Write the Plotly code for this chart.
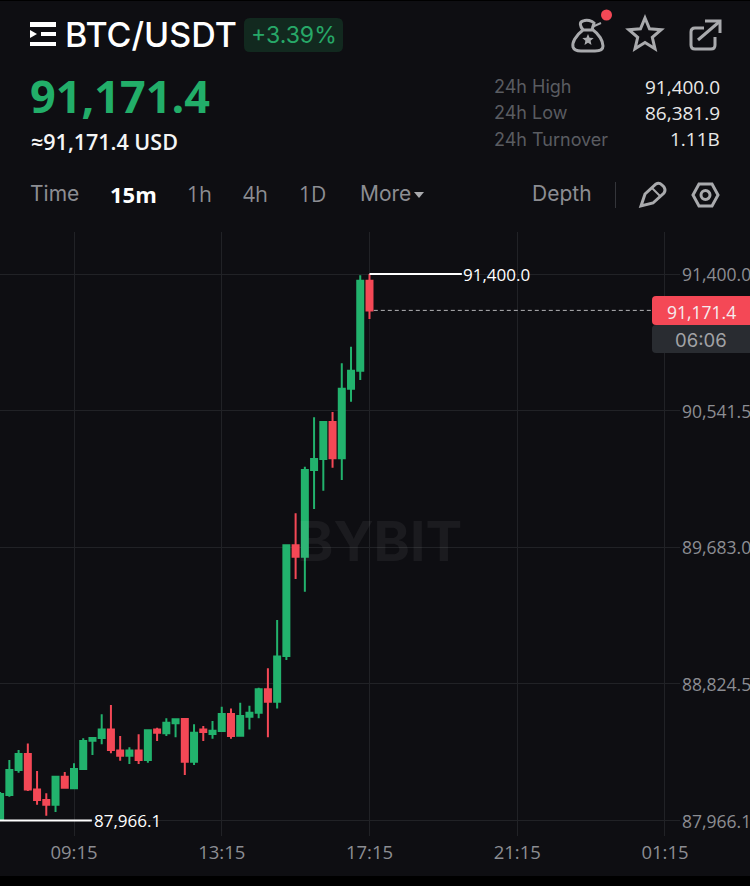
import math
import pandas as pd
import plotly.graph_objects as go

# 15m candles, oldest first
times = pd.date_range("2024-11-13 07:15", periods=41, freq="15min")
open_prices = [87973, 88126, 88283, 88383, 88161, 88094, 88065, 88241, 88168, 88289,
               88467, 88484, 88538, 88406, 88373, 88406, 88345, 88538, 88513, 88576,
               88603, 88335, 88538, 88509, 88528, 88635, 88498, 88618, 88643, 88790,
               88712, 88999, 89695, 89623, 90168, 90237, 90470, 90242, 90679, 90792,
               91358]
high_prices = [88144, 88345, 88408, 88450, 88276, 88136, 88245, 88270, 88325, 88482,
               88487, 88633, 88691, 88496, 88425, 88507, 88535, 88549, 88608, 88605,
               88606, 88570, 88559, 88591, 88680, 88670, 88706, 88687, 88800, 88922,
               89225, 89700, 89896, 90189, 90499, 90470, 90533, 90839, 90943, 91392,
               91400]
low_prices = [87966.1, 88115, 88266, 88151, 88065, 87995, 88019, 88168, 88168, 88285,
              88377, 88444, 88388, 88341, 88320, 88320, 88329, 88465, 88496, 88488,
              88251, 88314, 88465, 88479, 88524, 88479, 88494, 88538, 88608, 88488,
              88670, 88974, 89483, 89403, 89923, 90038, 90183, 90105, 90597, 90734,
              91117]
close_prices = [88132, 88283, 88383, 88161, 88094, 88065, 88241, 88171, 88289, 88465,
                88484, 88538, 88408, 88373, 88406, 88345, 88532, 88517, 88580, 88601,
                88335, 88517, 88521, 88530, 88635, 88496, 88622, 88643, 88790, 88712,
                88996, 89695, 89623, 90168, 90237, 90470, 90242, 90679, 90792, 91358,
                91171.4]

price_ticks = [87966.1, 88824.5, 89683.0, 90541.5, 91400.0]
price_labels = ["87,966.1", "88,824.5", "89,683.0", "90,541.5", "91,400.0"]
time_ticks = ["2024-11-13 09:15", "2024-11-13 13:15", "2024-11-13 17:15", "2024-11-13 21:15", "2024-11-14 01:15"]
time_labels = ["09:15", "13:15", "17:15", "21:15", "01:15"]

high_price = 91400.0
low_price = 87966.1
last_price = 91171.4

stat_names = ["24h High", "24h Low", "24h Turnover"]
stat_values = ["91,400.0", "86,381.9", "1.11B"]

BG = "#0E0E12"
GREEN = "#22B26D"
RED = "#F44856"
GRID = "#212226"
GRAY = "#8C8D92"
ICON = "#A9AAAD"
W, H = 750, 886


def px(x):
    return x / W


def py(y):
    return 1 - y / H


def path(s):
    # path written in page pixels -> paper coords
    out = []
    is_x = True
    for tok in s.split():
        if tok.isalpha():
            out.append(tok)
        else:
            out.append(str(px(float(tok))) if is_x else str(py(float(tok))))
            is_x = not is_x
    return " ".join(out)


def round_rect(x0, y0, x1, y1, r, right=True):
    if right:
        return (f"M {x0+r} {y0} L {x1-r} {y0} Q {x1} {y0} {x1} {y0+r} L {x1} {y1-r} Q {x1} {y1} {x1-r} {y1} "
                f"L {x0+r} {y1} Q {x0} {y1} {x0} {y1-r} L {x0} {y0+r} Q {x0} {y0} {x0+r} {y0} Z")
    return (f"M {x0+r} {y0} L {x1} {y0} L {x1} {y1} L {x0+r} {y1} Q {x0} {y1} {x0} {y1-r} "
            f"L {x0} {y0+r} Q {x0} {y0} {x0+r} {y0} Z")


def star(cx, cy, r):
    pts = []
    for i in range(10):
        rad = r if i % 2 == 0 else r * 0.45
        a = -math.pi / 2 + i * math.pi / 5
        pts.append(f"{cx + rad * math.cos(a):.1f} {cy + rad * math.sin(a):.1f}")
    return "M " + " L ".join(pts) + " Z"


shapes = []


def add_path(s, fill=None, color=None, width=0):
    shapes.append(dict(type="path", xref="paper", yref="paper", path=path(s),
                       fillcolor=fill if fill else "rgba(0,0,0,0)",
                       line=dict(color=color if color else "rgba(0,0,0,0)", width=width)))


def add_rect(x0, y0, x1, y1, fill):
    shapes.append(dict(type="rect", xref="paper", yref="paper", x0=px(x0), x1=px(x1), y0=py(y0), y1=py(y1),
                       fillcolor=fill, line=dict(width=0)))


annotations = []


def add_text(x, y, text, size, color, anchor="left", weight=400, font="Open Sans"):
    annotations.append(dict(xref="paper", yref="paper", x=px(x), y=py(y), text=text, showarrow=False,
                            xanchor=anchor, yanchor="middle", borderpad=0,
                            font=dict(size=size, color=color, family=font, weight=weight)))


# black strips top and bottom
add_rect(0, 876, 750, 886, "#000000")
add_rect(0, 0, 750, 1, "#000000")

# menu icon
add_rect(30, 22, 56, 27, "#FFFFFF")
add_rect(41, 32, 56, 36, "#FFFFFF")
add_rect(30, 42, 56, 46, "#FFFFFF")
add_path("M 30 30 L 37 34 L 30 38 Z", fill="#FFFFFF")

# change badge
add_path(round_rect(244, 18, 343, 52, 6), fill="#12291F")

# top right icons
add_path("M 583 30 C 575 36 572 43 573 47 C 574 50 577 51 581 51 L 595 51 C 600 51 603 50 603 46 C 603 41 599 34 593 30 Z",
         color=ICON, width=3)
add_path("M 583 30 C 580 26 579 22 583 21 C 587 19 592 21 594 23 L 592 30", color=ICON, width=3)
add_path("M 592 27 L 601 23", color=ICON, width=2)
add_path(star(588, 40, 6), fill=ICON)
shapes.append(dict(type="circle", xref="paper", yref="paper", x0=px(601), x1=px(612), y0=py(9.5), y1=py(20.5),
                   fillcolor=RED, line=dict(width=0)))
add_path(star(645, 35, 17), color=ICON, width=3)
add_path("M 704 28 L 695 28 Q 691 28 691 32 L 691 45 Q 691 49 695 49 L 711 49 Q 715 49 715 45 L 715 37",
         color=ICON, width=3)
add_path("M 698 40 L 719 22", color=ICON, width=3)
add_path("M 705 21 L 720 21 L 720 33", color=ICON, width=3)

# toolbar decorations
add_path("M 414 192 L 424 192 L 419 198 Z", fill=ICON)
add_rect(615, 182, 616, 208, "#34353A")
add_path("M 641 206 L 645 194 L 656 184 Q 659 182 662 185 L 664 187 Q 666 190 664 193 L 653 203 Z", color=ICON, width=3)
add_path("M 652 188 L 661 197", color=ICON, width=2)
add_path("M 693 195 L 699 184 L 712 184 L 718 195 L 712 206 L 699 206 Z", color=ICON, width=3)
shapes.append(dict(type="circle", xref="paper", yref="paper", x0=px(701), x1=px(710), y0=py(190.5), y1=py(199.5),
                   line=dict(color=ICON, width=3)))

# last price line and tag
shapes.append(dict(type="line", xref="x", yref="y", x0="2024-11-13 17:22", x1="2024-11-14 01:15",
                   y0=last_price, y1=last_price, line=dict(color="#B5B5B8", width=1, dash="4px,3px")))
add_path(round_rect(652, 296, 760, 325, 4, right=False), fill=RED)
add_path(round_rect(652, 325, 760, 353, 4, right=False), fill="#292C31")
add_text(701, 312, "91,171.4", 17.5, "#F4EDEE", "center")
add_text(701, 340, "06:06", 18.5, "#A2A3A6", "center", font="Inter")

# header texts
add_text(63.5, 35, "BTC/USDT", 34, "#FFFFFF", weight=500, font="Inter")
add_text(293.5, 35, "+3.39%", 23, "#27A868", "center", font="Inter")
add_text(29, 96, "91,171.4", 45, "#22AE69", weight=700)
add_text(29.5, 141.5, "≈91,171.4 USD", 21.5, "#F5F5F5", weight=600)

for name, value, y in zip(stat_names, stat_values, [87, 113, 139]):
    add_text(492.5, y, name, 18, "#5A5C61", font="Inter")
    add_text(720.5, y, value, 19, "#E8E8E8", "right")

add_text(29, 194, "Time", 21, GRAY, font="Inter")
add_text(108.5, 194, "15m", 22, "#FFFFFF", weight=700)
add_text(185.5, 194, "1h", 21, GRAY)
add_text(241.5, 194, "4h", 21, GRAY)
add_text(297.5, 194, "1D", 21, GRAY)
add_text(359, 194, "More", 21, GRAY, font="Inter")
add_text(531, 194, "Depth", 21, GRAY, font="Inter")

# watermark
add_text(379, 541, "BYBIT", 55, "rgba(255,255,255,0.055)", "center", weight=700, font="Inter")

# high / low labels
annotations.append(dict(xref="x", yref="y", x="2024-11-13 19:44", y=high_price, text="91,400.0", showarrow=False,
                        xanchor="left", yanchor="middle", font=dict(size=17, color="#FFFFFF", family="Open Sans")))
annotations.append(dict(xref="x", yref="y", x="2024-11-13 09:45", y=low_price, text="87,966.1", showarrow=False,
                        xanchor="left", yanchor="middle", font=dict(size=17, color="#FFFFFF", family="Open Sans")))

fig = go.Figure()
fig.add_trace(go.Candlestick(
    x=times, open=open_prices, high=high_prices, low=low_prices, close=close_prices,
    increasing=dict(line=dict(color=GREEN, width=2), fillcolor=GREEN),
    decreasing=dict(line=dict(color=RED, width=2), fillcolor=RED),
    whiskerwidth=0, showlegend=False, hoverinfo="skip",
))
fig.add_trace(go.Scatter(x=["2024-11-13 17:15", "2024-11-13 19:45"], y=[high_price, high_price], mode="lines",
                         line=dict(color="#FFFFFF", width=2), showlegend=False, hoverinfo="skip"))
fig.add_trace(go.Scatter(x=["2024-11-13 07:00", "2024-11-13 09:44"], y=[low_price, low_price], mode="lines",
                         line=dict(color="#FFFFFF", width=2), showlegend=False, hoverinfo="skip"))

fig.update_layout(
    width=W, height=H,
    margin=dict(l=0, r=0, t=0, b=0),
    paper_bgcolor=BG, plot_bgcolor=BG,
    showlegend=False,
    boxgap=0.35, boxgroupgap=0,
    shapes=shapes,
    annotations=annotations,
    xaxis=dict(
        domain=[0, 680 / W],
        range=["2024-11-13 07:14:48", "2024-11-14 01:39:24"],
        type="date",
        tickmode="array", tickvals=time_ticks, ticktext=time_labels,
        showgrid=True, gridcolor=GRID, gridwidth=1,
        zeroline=False, showline=False, ticks="", automargin=False,
        ticklabelstandoff=3,
        rangeslider=dict(visible=False),
        tickfont=dict(size=18.5, color=GRAY, family="Open Sans"),
    ),
    yaxis=dict(
        domain=[(H - 836) / H, (H - 232) / H],
        range=[87868, 91664],
        side="right",
        tickmode="array", tickvals=price_ticks, ticktext=price_labels,
        showgrid=True, gridcolor=GRID, gridwidth=1,
        zeroline=False, showline=False, ticks="", automargin=False,
        ticklabelshift=1, ticklabelstandoff=1,
        tickfont=dict(size=17.5, color=GRAY, family="Open Sans"),
    ),
)

# the page's default body margin would push the figure 8px off
fig.write_html("out.html", config=dict(displayModeBar=False),
               post_script="document.body.style.margin='0';document.body.style.overflow='hidden';")
